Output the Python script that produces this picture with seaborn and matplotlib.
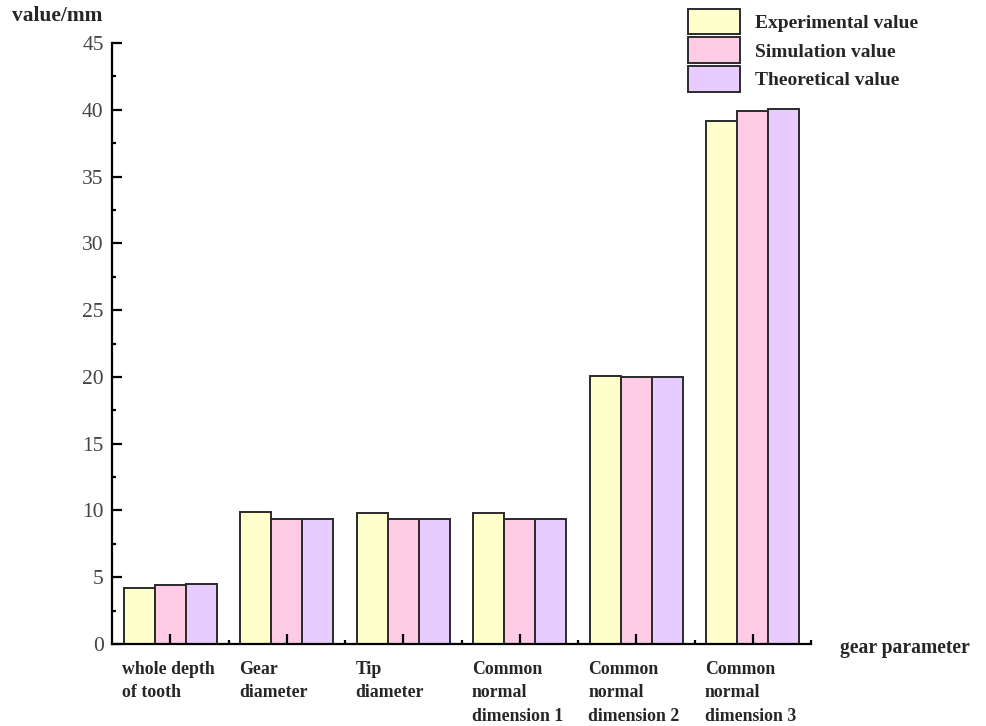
import matplotlib
matplotlib.use("Agg")
import matplotlib.pyplot as plt
import matplotlib.transforms as mtrans
from matplotlib.ticker import MultipleLocator, FixedLocator
from matplotlib.patches import Patch
import seaborn as sns
import pandas as pd

categories = ["whole depth\nof tooth", "Gear\ndiameter", "Tip\ndiameter",
              "Common\nnormal\ndimension 1", "Common\nnormal\ndimension 2",
              "Common\nnormal\ndimension 3"]
series = ["Experimental value", "Simulation value", "Theoretical value"]
experimental = [4.19, 9.86, 9.80, 9.83, 20.05, 39.17]
simulation = [4.42, 9.36, 9.36, 9.36, 20.00, 39.87]
theoretical = [4.51, 9.36, 9.36, 9.36, 19.98, 40.02]
colors = ["#FFFFCC", "#FFCCE6", "#E6CCFF"]

rows = []
for s, vals in zip(series, [experimental, simulation, theoretical]):
    for c, v in zip(categories, vals):
        rows.append({"cat": c, "series": s, "value": v})
df = pd.DataFrame(rows)

sns.set_theme(style="white")
plt.rcParams["font.family"] = ["Liberation Serif", "DejaVu Serif"]

fig = plt.figure(figsize=(9.86, 7.26), dpi=100)
ax = fig.add_axes([112 / 986, 0.1129, (811 - 112) / 986, 0.9408 - 0.1129])

sns.barplot(data=df, x="cat", y="value", hue="series", palette=colors,
            order=categories, hue_order=series, width=0.8, saturation=1,
            edgecolor="#2b2b2b", linewidth=1.4, ax=ax, legend=False)

ax.set_axisbelow(False)
ax.set_xlim(-0.5, 5.5)
ax.set_ylim(0, 45)
ax.yaxis.set_major_locator(MultipleLocator(5))
ax.yaxis.set_minor_locator(MultipleLocator(2.5))
ax.xaxis.set_minor_locator(FixedLocator([0.5, 1.5, 2.5, 3.5, 4.5, 5.5]))

for sp in ["top", "right"]:
    ax.spines[sp].set_visible(False)
for sp in ["left", "bottom"]:
    ax.spines[sp].set_linewidth(1.6)
    ax.spines[sp].set_color("black")

ax.tick_params(axis="both", which="major", direction="in", length=7, width=1.6,
               color="black", left=True, bottom=True)
ax.tick_params(axis="both", which="minor", direction="in", length=3.2, width=1.6,
               color="black", left=True, bottom=True)
ax.tick_params(axis="y", labelsize=15.5, labelcolor="#444444", pad=6)
ax.tick_params(axis="x", labelsize=12.8, pad=12)

ax.set_xticks(range(len(categories)))
ax.set_xticklabels(categories, ha="left", va="top", fontweight="bold",
                   linespacing=1.5)
offset = mtrans.ScaledTranslation(-48 / 100, 0, fig.dpi_scale_trans)
for lbl in ax.get_xticklabels():
    lbl.set_transform(lbl.get_transform() + offset)

ax.set_xlabel("")
ax.set_ylabel("")
fig.text(12 / 986, 1 - 16 / 726, "value/mm", fontsize=15.4, fontweight="bold",
         ha="left", va="center")
fig.text(840 / 986, 1 - 648 / 726, "gear parameter", fontsize=14.1,
         fontweight="bold", ha="left", va="center")

handles = [Patch(facecolor=c, edgecolor="#2b2b2b", linewidth=1.4, label=s)
           for c, s in zip(colors, series)]
leg = fig.legend(handles=handles, loc="upper left",
                 bbox_to_anchor=(682 / 986, 1 - 3 / 726), frameon=False,
                 prop={"family": "Liberation Serif", "weight": "bold", "size": 14},
                 handlelength=2.67, handleheight=1.65, handletextpad=0.8,
                 labelspacing=0.15, borderaxespad=0, borderpad=0.3)

fig.savefig("out.png", dpi=100)
